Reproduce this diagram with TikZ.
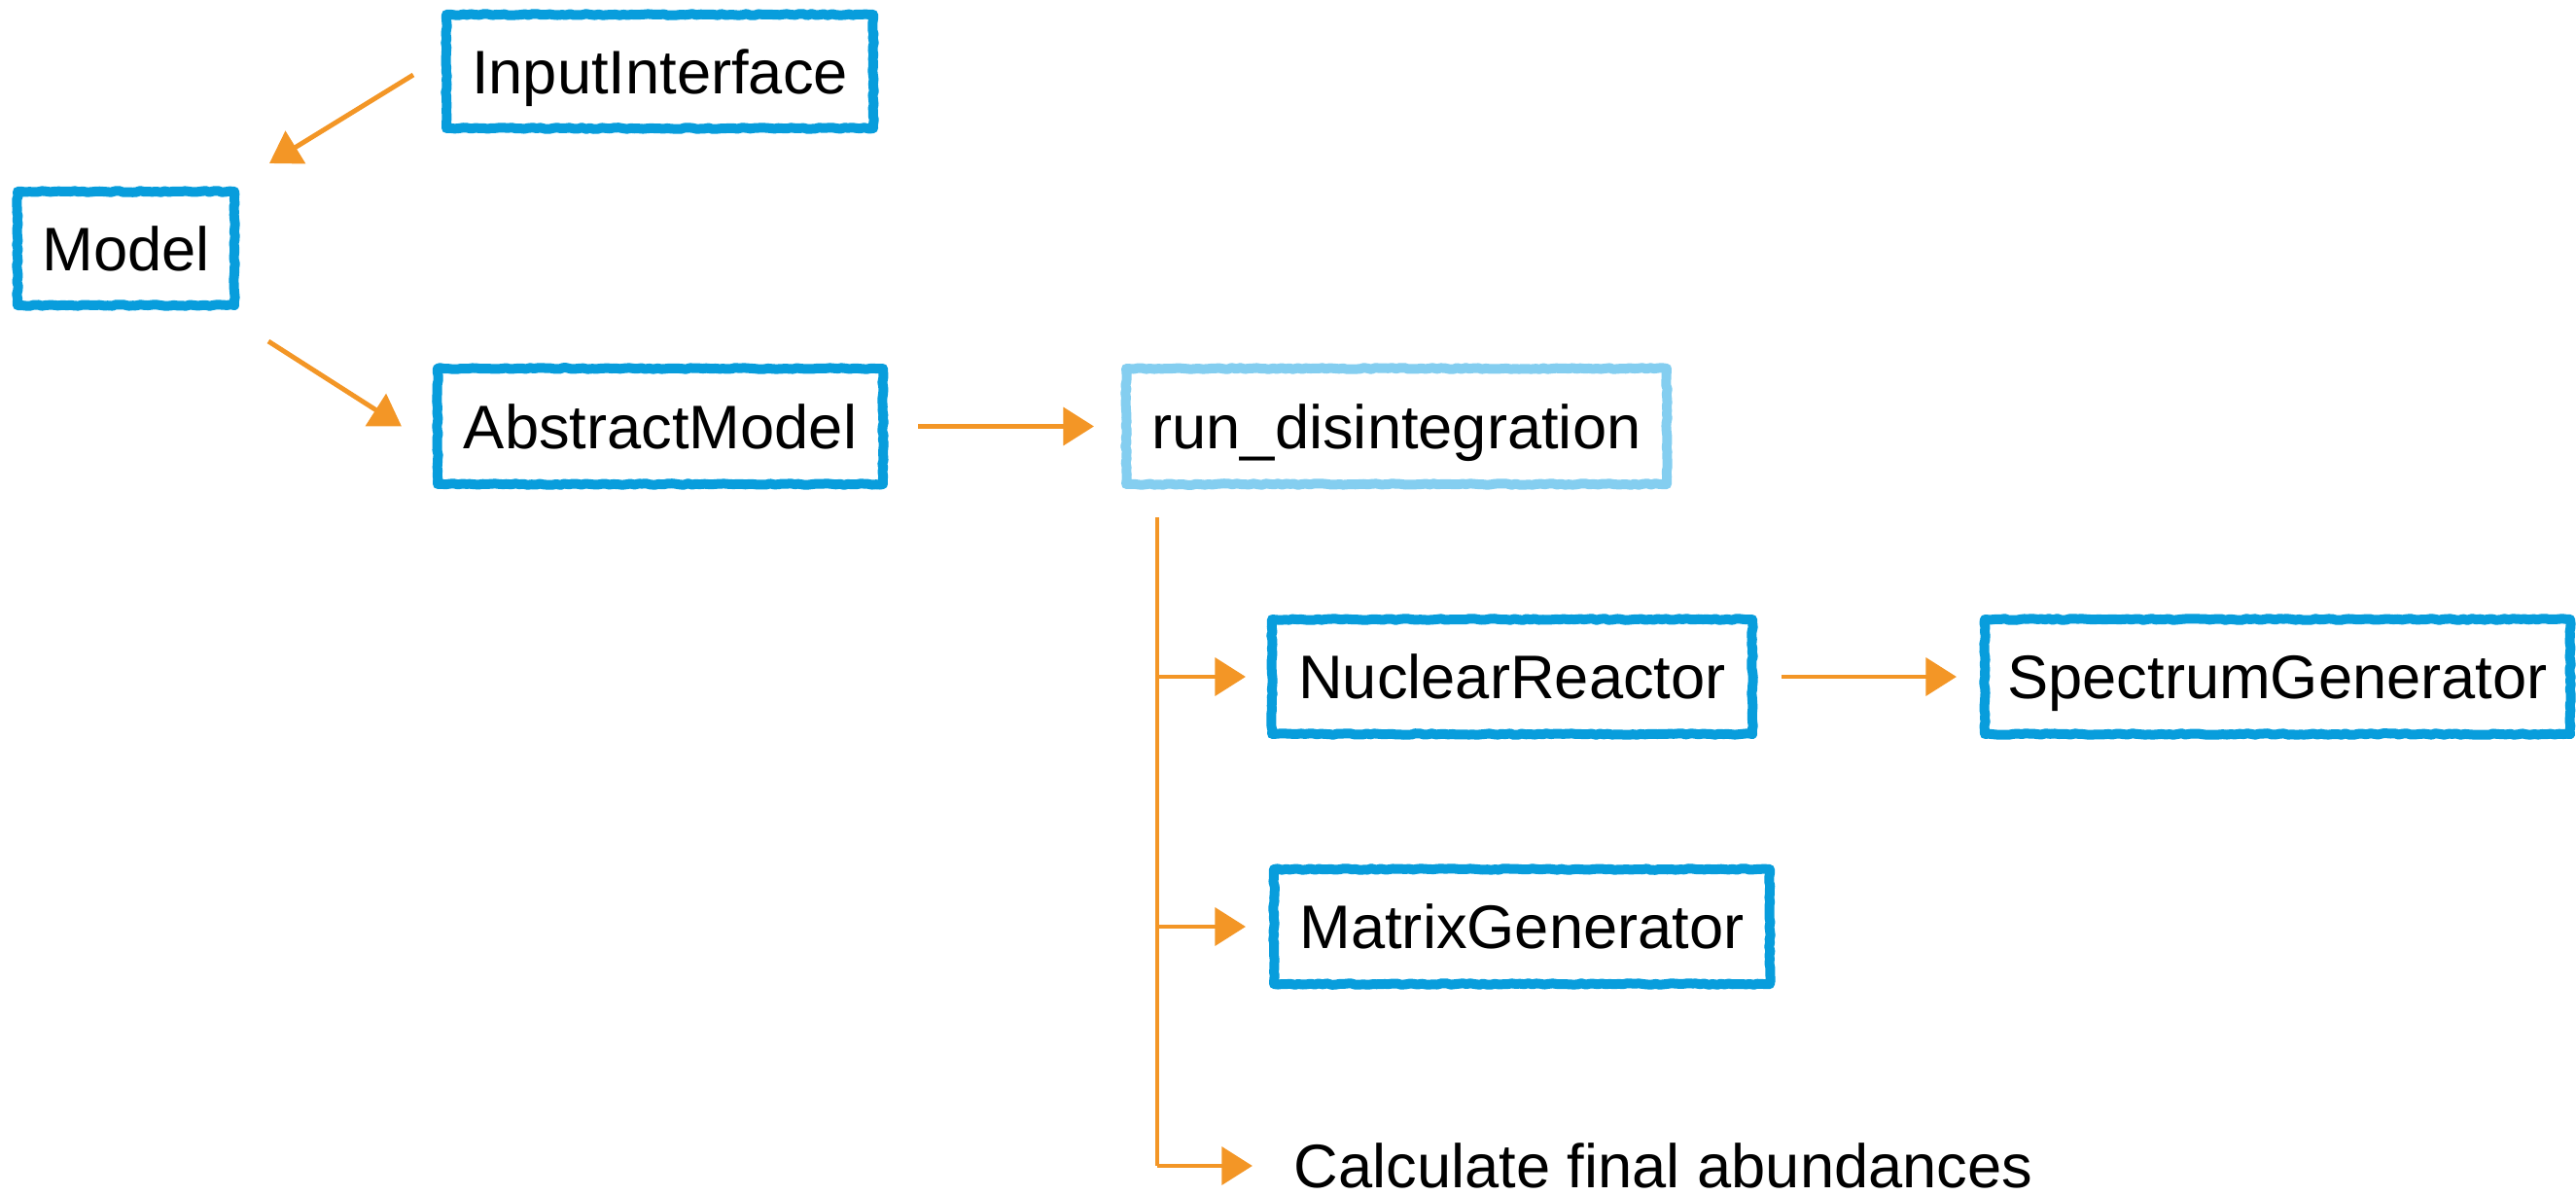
\documentclass[tikz,border=0pt]{standalone}
\usepackage{fontspec}
\setmainfont{Liberation Sans}
\usetikzlibrary{arrows.meta,decorations.pathmorphing}
\definecolor{boxblue}{RGB}{8,157,220}
\definecolor{lightblue}{RGB}{132,206,240}
\definecolor{arrorange}{RGB}{243,150,38}
\tikzset{
  sketchbox/.style={draw=boxblue, line width=0.1cm, line join=round,
    inner sep=0pt, text height=12.9pt, text depth=0pt,
    decoration={random steps, segment length=1.2pt, amplitude=0.22pt},
    decorate,
    font=\fontsize{18}{21.6}\selectfont},
  lightbox/.style={sketchbox, draw=lightblue},
  plaintext/.style={inner sep=0pt, text height=12.9pt, text depth=0pt,
    font=\fontsize{18}{21.6}\selectfont},
  arr/.style={draw=arrorange, line width=1.4pt,
    -{Triangle[length=9pt, width=11pt, fill=arrorange]}},
  trunk/.style={draw=arrorange, line width=1.4pt}
}
\begin{document}
\begin{tikzpicture}[x=1cm,y=1cm]
\pgfmathsetseed{7}
\useasboundingbox (0,0) rectangle (26.49,-12.30);
\node[sketchbox, minimum width=4.39cm, minimum height=1.17cm] (ii) at (6.785,-0.735) {InputInterface};
\node[sketchbox, minimum width=2.23cm, minimum height=1.17cm] (model) at (1.295,-2.555) {Model};
\node[sketchbox, minimum width=4.58cm, minimum height=1.19cm] (am) at (6.79,-4.385) {AbstractModel};
\node[lightbox, minimum width=5.56cm, minimum height=1.19cm] (run) at (14.36,-4.385) {run\_disintegration};
\node[sketchbox, minimum width=4.94cm, minimum height=1.18cm] (nr) at (15.55,-6.96) {NuclearReactor};
\node[sketchbox, minimum width=6.02cm, minimum height=1.18cm] (sg) at (23.42,-6.96) {SpectrumGenerator};
\node[sketchbox, minimum width=5.10cm, minimum height=1.18cm] (mg) at (15.65,-9.53) {MatrixGenerator};
\node[plaintext] (calc) at (17.105,-11.99) {Calculate final abundances};

\draw[arr] ([xshift=-0.29cm,yshift=-0.035cm]ii.west) -- ([xshift=0.31cm,yshift=0.24cm]model.north east);
\draw[arr] ([xshift=0.30cm,yshift=-0.32cm]model.south east) -- ([xshift=-0.32cm]am.west);
\draw[arr] ([xshift=0.31cm]am.east) -- ([xshift=-0.28cm]run.west);
\draw[arr] ([xshift=0.25cm]nr.east) -- ([xshift=-0.24cm]sg.west);

\coordinate (t0) at (11.90,-5.32);
\coordinate (t3) at (t0 |- calc.west);
\draw[trunk] (t0) -- (t3);
\draw[arr] (t0 |- nr.west) -- ([xshift=-0.22cm]nr.west);
\draw[arr] (t0 |- mg.west) -- ([xshift=-0.24cm]mg.west);
\draw[arr] (t3) -- ([xshift=-0.42cm]calc.west);
\end{tikzpicture}
\end{document}
